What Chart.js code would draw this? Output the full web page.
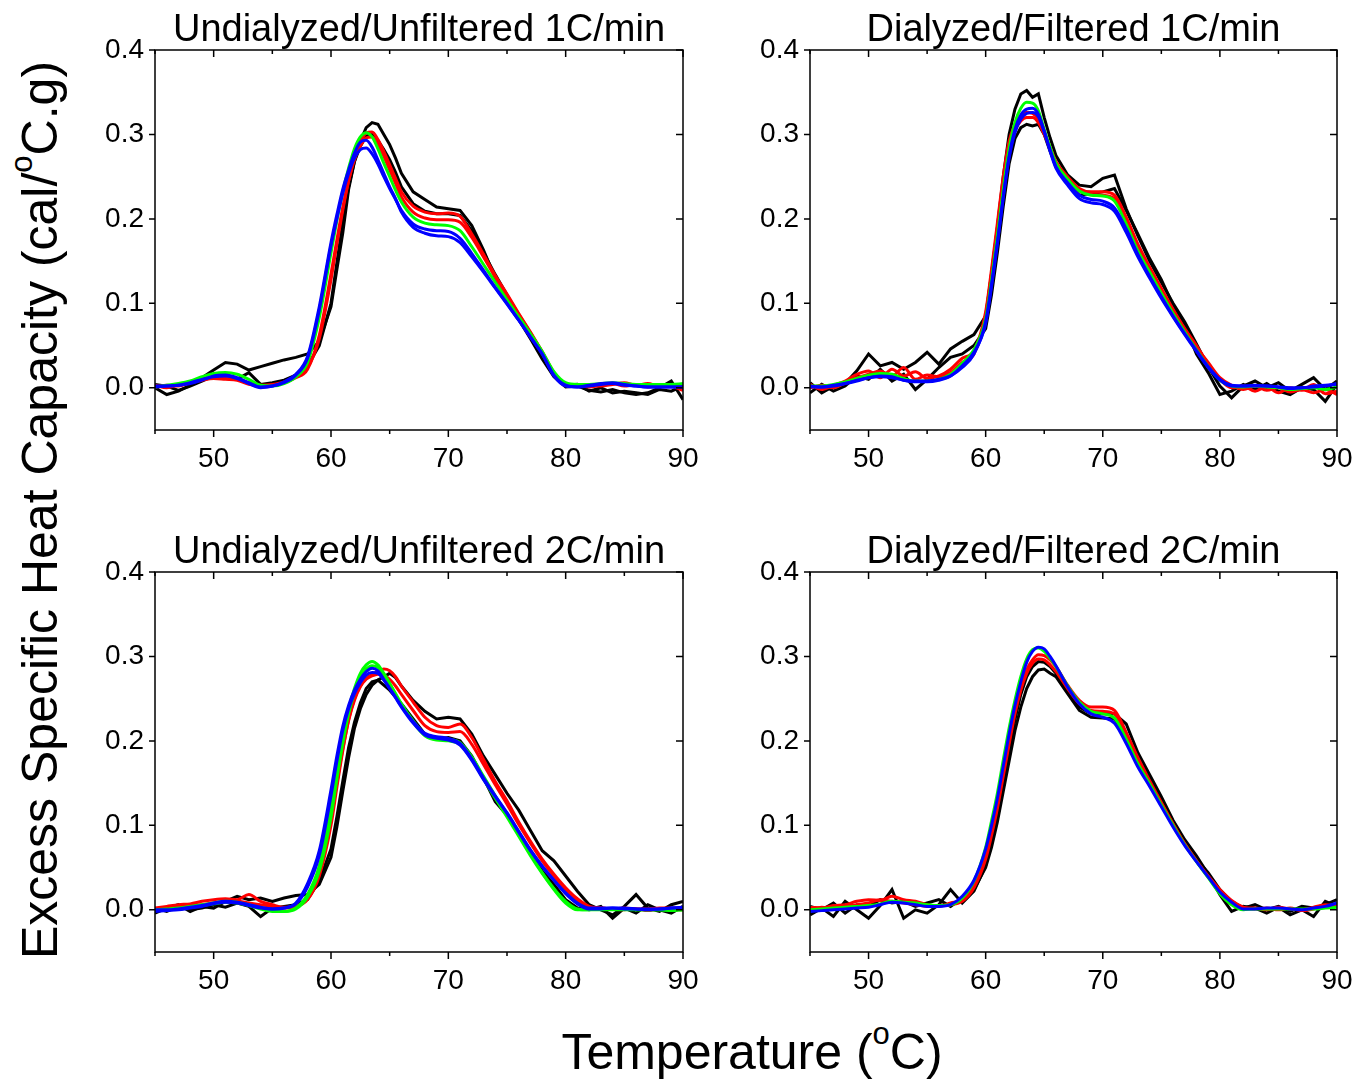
<!DOCTYPE html>
<html>
<head>
<meta charset="utf-8">
<script src="https://cdn.jsdelivr.net/npm/chart.js@4.4.1/dist/chart.umd.min.js"></script>
<style>
  body { margin: 0; background: #fff; font-family: "Liberation Sans", Arial, sans-serif; }
  #wrap { position: relative; width: 1371px; height: 1081px; overflow: hidden; }
  canvas { position: absolute; }
  .axtitle { position: absolute; font-size: 50px; color: #000; white-space: nowrap; line-height: 1; }
  .axtitle sup { font-size: 62%; vertical-align: 0.8em; line-height: 0; color: #000; }
</style>
</head>
<body>
<div id="wrap">
  <canvas id="u1" width="620" height="480" style="left:95px;top:0px"></canvas>
  <canvas id="d1" width="619" height="480" style="left:750px;top:0px"></canvas>
  <canvas id="u2" width="620" height="480" style="left:95px;top:522px"></canvas>
  <canvas id="d2" width="619" height="480" style="left:750px;top:522px"></canvas>
  <div class="axtitle" style="left:40px;top:510px;transform:translate(-50%,-50%) rotate(-90deg)">Excess Specific Heat Capacity (cal/<sup>o</sup>C.g)</div>
  <div class="axtitle" style="left:752px;top:1052px;transform:translate(-50%,-50%)">Temperature (<sup>o</sup>C)</div>
</div>
<script>
// temperature grid (C), shared by every trace
const temps = [45,46,47,48,49,50,51,52,53,54,55,56,57,58,59,60,60.5,61,61.5,62,62.5,63,63.5,64,64.5,65,65.5,66,67,68,69,70,71,72,73,74,75,76,77,78,79,80,81,82,83,84,85,86,87,88,89,90];
const xTicks = [50, 60, 70, 80, 90];
const yTicks = [0.0, 0.1, 0.2, 0.3, 0.4];

// Undialyzed/Unfiltered 1C/min
const u1Black1 = [0.000,-0.008,-0.004,0.003,0.012,0.021,0.030,0.028,0.021,0.025,0.029,0.033,0.036,0.040,0.055,0.096,0.140,0.183,0.235,0.268,0.292,0.308,0.314,0.312,0.300,0.288,0.272,0.254,0.232,0.223,0.214,0.212,0.210,0.192,0.163,0.130,0.106,0.081,0.058,0.034,0.013,0.001,0.002,-0.003,-0.005,-0.002,-0.006,-0.008,-0.006,0.000,0.008,-0.014];
const u1Black2 = [0.004,0.002,-0.003,0.002,0.008,0.014,0.016,0.010,0.018,0.004,0.006,0.009,0.015,0.026,0.050,0.100,0.148,0.195,0.238,0.268,0.286,0.298,0.300,0.293,0.282,0.270,0.255,0.238,0.218,0.209,0.206,0.206,0.204,0.186,0.160,0.134,0.110,0.086,0.062,0.040,0.016,0.003,0.004,-0.004,0.000,-0.006,-0.004,-0.006,-0.008,-0.002,-0.004,0.002];
const u1Red1 = [0.003,0.000,0.004,0.007,0.010,0.012,0.011,0.010,0.006,0.003,0.004,0.007,0.014,0.024,0.058,0.128,0.170,0.210,0.245,0.272,0.290,0.302,0.303,0.294,0.280,0.264,0.248,0.232,0.215,0.208,0.206,0.207,0.203,0.182,0.158,0.133,0.111,0.088,0.066,0.042,0.016,0.003,0.002,0.004,0.002,0.004,0.006,0.003,0.005,0.002,0.004,0.000];
const u1Red2 = [0.001,0.003,0.002,0.006,0.009,0.011,0.010,0.009,0.004,0.002,0.003,0.006,0.012,0.022,0.062,0.135,0.175,0.213,0.245,0.270,0.286,0.296,0.297,0.288,0.274,0.258,0.242,0.226,0.208,0.201,0.199,0.199,0.196,0.178,0.155,0.131,0.109,0.087,0.065,0.043,0.018,0.004,0.003,0.001,0.003,0.005,0.002,0.004,0.001,0.003,0.002,-0.003];
const u1Green1 = [0.001,0.003,0.005,0.008,0.013,0.017,0.018,0.016,0.010,0.003,0.002,0.005,0.013,0.030,0.083,0.160,0.198,0.232,0.260,0.283,0.297,0.302,0.297,0.283,0.266,0.250,0.234,0.220,0.202,0.195,0.193,0.192,0.186,0.167,0.146,0.125,0.104,0.084,0.064,0.043,0.019,0.006,0.004,0.004,0.005,0.006,0.005,0.004,0.004,0.004,0.004,0.005];
const u1Blue1 = [0.002,0.002,0.003,0.005,0.009,0.014,0.015,0.012,0.006,0.001,0.002,0.007,0.016,0.037,0.096,0.172,0.205,0.235,0.258,0.278,0.291,0.293,0.285,0.270,0.254,0.238,0.224,0.208,0.190,0.183,0.180,0.179,0.172,0.155,0.137,0.118,0.099,0.080,0.060,0.040,0.014,0.002,0.001,0.002,0.004,0.005,0.003,0.002,0.001,0.001,0.001,0.001];
const u1Blue2 = [0.001,0.002,0.003,0.006,0.010,0.013,0.014,0.011,0.005,0.000,0.002,0.006,0.015,0.035,0.092,0.168,0.200,0.230,0.254,0.272,0.282,0.284,0.277,0.265,0.250,0.236,0.223,0.210,0.194,0.188,0.186,0.185,0.177,0.159,0.139,0.119,0.100,0.080,0.060,0.040,0.015,0.003,0.001,0.003,0.005,0.006,0.004,0.002,0.001,0.001,0.001,0.001];

// Dialyzed/Filtered 1C/min
const d1Black1 = [0.006,-0.006,0.002,0.005,0.020,0.040,0.026,0.030,0.022,0.030,0.042,0.028,0.046,0.055,0.063,0.085,0.135,0.190,0.250,0.300,0.330,0.348,0.352,0.344,0.348,0.320,0.296,0.275,0.252,0.240,0.238,0.248,0.252,0.212,0.180,0.150,0.125,0.100,0.078,0.052,0.025,0.002,-0.012,0.002,0.008,0.000,0.006,-0.004,0.004,0.012,-0.002,0.008];
const d1Black2 = [-0.006,0.004,-0.004,0.002,0.014,0.010,0.022,0.008,0.016,-0.002,0.010,0.024,0.036,0.040,0.050,0.070,0.110,0.160,0.215,0.265,0.295,0.308,0.312,0.310,0.312,0.300,0.280,0.262,0.242,0.228,0.230,0.232,0.236,0.210,0.182,0.153,0.128,0.098,0.074,0.040,0.018,-0.008,-0.004,0.004,-0.002,0.005,-0.004,-0.008,0.000,-0.002,-0.016,0.004];
const d1Red1 = [0.004,-0.002,0.003,0.008,0.016,0.020,0.012,0.022,0.014,0.019,0.011,0.014,0.022,0.035,0.044,0.090,0.140,0.195,0.250,0.292,0.312,0.322,0.326,0.325,0.318,0.302,0.285,0.268,0.250,0.236,0.232,0.232,0.228,0.202,0.170,0.143,0.118,0.093,0.070,0.050,0.028,0.010,0.000,0.002,-0.004,0.001,-0.006,0.000,-0.003,0.004,-0.007,-0.004];
const d1Red2 = [0.000,0.003,0.000,0.006,0.012,0.016,0.020,0.014,0.024,0.010,0.015,0.013,0.018,0.030,0.040,0.085,0.135,0.188,0.240,0.283,0.305,0.316,0.320,0.320,0.314,0.300,0.283,0.265,0.246,0.233,0.229,0.228,0.224,0.200,0.168,0.141,0.116,0.092,0.069,0.048,0.030,0.012,0.003,-0.002,0.002,-0.003,0.000,-0.005,-0.002,-0.006,-0.002,-0.008];
const d1Green1 = [0.002,0.002,0.004,0.007,0.011,0.015,0.017,0.016,0.011,0.008,0.008,0.010,0.016,0.029,0.045,0.082,0.128,0.180,0.235,0.283,0.314,0.331,0.338,0.337,0.328,0.306,0.285,0.266,0.247,0.233,0.228,0.227,0.221,0.194,0.162,0.137,0.112,0.088,0.066,0.045,0.025,0.009,0.002,0.001,0.002,0.001,0.000,-0.002,-0.001,0.000,-0.002,0.001];
const d1Blue1 = [0.001,0.001,0.003,0.005,0.008,0.012,0.014,0.013,0.009,0.007,0.007,0.009,0.014,0.026,0.042,0.076,0.120,0.170,0.225,0.274,0.306,0.323,0.330,0.331,0.324,0.304,0.280,0.260,0.240,0.224,0.219,0.217,0.209,0.184,0.155,0.130,0.106,0.084,0.063,0.043,0.024,0.009,0.002,0.002,0.003,0.002,0.001,-0.001,0.000,0.001,0.002,0.005];
const d1Blue2 = [0.002,0.001,0.002,0.005,0.009,0.012,0.013,0.012,0.009,0.008,0.008,0.010,0.014,0.024,0.040,0.078,0.122,0.172,0.226,0.272,0.302,0.318,0.325,0.326,0.321,0.303,0.282,0.262,0.243,0.228,0.223,0.221,0.213,0.188,0.158,0.132,0.108,0.085,0.064,0.044,0.025,0.010,0.003,0.002,0.002,0.002,0.001,0.000,0.000,0.002,0.003,0.004];

// Undialyzed/Unfiltered 2C/min
const u2Black1 = [-0.004,0.002,0.006,-0.002,0.004,0.002,0.010,0.016,0.012,0.014,0.010,0.014,0.017,0.018,0.030,0.062,0.098,0.140,0.180,0.215,0.238,0.255,0.266,0.272,0.276,0.280,0.275,0.265,0.248,0.235,0.226,0.228,0.226,0.208,0.182,0.160,0.138,0.118,0.094,0.070,0.058,0.040,0.022,0.006,0.000,-0.006,0.004,0.018,0.002,-0.002,0.006,0.010];
const u2Black2 = [0.002,-0.002,0.004,0.000,0.002,0.006,0.003,0.008,0.004,-0.008,0.002,0.004,0.006,0.012,0.034,0.072,0.110,0.152,0.192,0.222,0.245,0.262,0.270,0.272,0.266,0.260,0.252,0.244,0.226,0.208,0.202,0.204,0.200,0.182,0.156,0.128,0.112,0.090,0.066,0.046,0.030,0.012,0.002,0.000,0.004,-0.010,0.002,-0.004,0.006,0.000,-0.004,0.004];
const u2Red1 = [0.002,0.004,0.006,0.007,0.010,0.012,0.013,0.012,0.018,0.010,0.006,0.003,0.004,0.012,0.040,0.100,0.145,0.188,0.225,0.250,0.265,0.274,0.279,0.282,0.285,0.283,0.276,0.265,0.246,0.228,0.218,0.216,0.220,0.204,0.178,0.152,0.129,0.104,0.081,0.060,0.042,0.026,0.013,0.004,0.002,0.001,0.002,0.001,0.001,0.002,0.002,0.001];
const u2Red2 = [0.000,0.001,0.003,0.005,0.006,0.008,0.009,0.010,0.008,0.006,0.004,0.002,0.004,0.014,0.046,0.108,0.150,0.190,0.224,0.248,0.264,0.273,0.277,0.279,0.278,0.273,0.265,0.255,0.236,0.218,0.211,0.210,0.211,0.196,0.172,0.148,0.125,0.101,0.079,0.058,0.040,0.024,0.011,0.003,0.002,0.001,0.000,0.001,-0.001,0.001,0.000,0.000];
const u2Green1 = [0.000,0.001,0.002,0.004,0.006,0.008,0.010,0.009,0.006,0.002,-0.001,-0.002,0.002,0.018,0.052,0.120,0.165,0.205,0.238,0.262,0.280,0.290,0.294,0.290,0.280,0.268,0.255,0.243,0.222,0.206,0.201,0.200,0.196,0.178,0.155,0.132,0.110,0.087,0.064,0.043,0.024,0.008,0.000,0.000,0.001,0.001,0.001,0.000,0.000,0.000,-0.001,0.000];
const u2Green2 = [-0.001,0.000,0.001,0.003,0.005,0.007,0.009,0.008,0.005,0.001,-0.002,-0.002,0.001,0.015,0.046,0.110,0.155,0.197,0.232,0.257,0.275,0.285,0.289,0.287,0.279,0.268,0.256,0.244,0.224,0.208,0.203,0.202,0.198,0.181,0.158,0.135,0.112,0.089,0.066,0.044,0.025,0.010,0.001,0.000,0.000,0.000,0.000,0.000,0.000,0.000,0.000,0.000];
const u2Blue1 = [-0.002,-0.001,0.000,0.002,0.004,0.007,0.009,0.008,0.005,0.002,0.001,0.002,0.008,0.031,0.070,0.142,0.182,0.217,0.242,0.260,0.273,0.282,0.286,0.283,0.273,0.262,0.251,0.240,0.221,0.207,0.203,0.201,0.195,0.177,0.154,0.134,0.114,0.092,0.070,0.051,0.035,0.019,0.007,0.001,0.001,0.002,0.002,0.001,0.000,0.001,0.002,0.003];
const u2Blue2 = [0.000,0.000,0.001,0.003,0.005,0.008,0.010,0.009,0.006,0.003,0.001,0.002,0.007,0.027,0.064,0.135,0.176,0.212,0.238,0.256,0.269,0.278,0.281,0.280,0.272,0.262,0.252,0.241,0.223,0.209,0.205,0.203,0.197,0.179,0.156,0.135,0.115,0.093,0.071,0.052,0.035,0.020,0.008,0.002,0.002,0.002,0.001,0.001,0.001,0.001,0.002,0.003];

// Dialyzed/Filtered 2C/min
const d2Black1 = [-0.006,0.002,-0.008,0.010,0.000,-0.010,0.005,0.024,-0.010,0.000,-0.004,0.006,0.024,0.008,0.022,0.052,0.080,0.112,0.150,0.188,0.225,0.255,0.276,0.288,0.294,0.293,0.288,0.280,0.258,0.240,0.232,0.232,0.232,0.220,0.186,0.160,0.134,0.106,0.083,0.064,0.042,0.018,-0.002,0.004,0.002,-0.004,0.003,-0.006,0.000,-0.008,0.010,0.004];
const d2Black2 = [0.004,0.000,0.008,-0.004,0.006,0.004,0.012,0.008,0.010,0.004,0.008,0.012,0.004,0.014,0.024,0.050,0.074,0.104,0.140,0.176,0.212,0.240,0.262,0.276,0.284,0.285,0.280,0.276,0.256,0.236,0.228,0.227,0.226,0.206,0.178,0.156,0.128,0.104,0.080,0.060,0.044,0.024,0.010,0.002,0.006,0.000,0.004,-0.002,0.004,0.002,0.006,0.012];
const d2Red1 = [0.003,0.002,0.005,0.006,0.010,0.012,0.011,0.016,0.012,0.010,0.006,0.004,0.008,0.012,0.030,0.064,0.092,0.124,0.162,0.200,0.236,0.264,0.284,0.296,0.302,0.301,0.296,0.288,0.266,0.248,0.240,0.240,0.236,0.210,0.180,0.153,0.127,0.102,0.078,0.058,0.039,0.022,0.010,0.002,0.002,0.000,0.003,0.001,0.000,0.003,0.006,0.005];
const d2Red2 = [0.000,0.003,0.001,0.004,0.006,0.008,0.012,0.010,0.008,0.006,0.004,0.005,0.006,0.010,0.026,0.060,0.088,0.120,0.158,0.196,0.232,0.260,0.280,0.292,0.297,0.296,0.290,0.282,0.262,0.244,0.236,0.235,0.232,0.207,0.177,0.151,0.126,0.101,0.078,0.058,0.040,0.024,0.011,0.003,0.001,0.002,0.000,0.002,-0.001,0.001,0.004,0.004];
const d2Green1 = [0.000,0.001,0.002,0.003,0.004,0.005,0.007,0.010,0.009,0.008,0.006,0.005,0.006,0.014,0.034,0.074,0.105,0.138,0.177,0.215,0.248,0.276,0.297,0.308,0.310,0.306,0.298,0.288,0.265,0.246,0.235,0.232,0.227,0.202,0.173,0.149,0.124,0.100,0.077,0.057,0.038,0.019,0.006,0.000,0.001,0.001,0.001,0.001,0.001,0.001,0.002,0.003];
const d2Blue1 = [-0.002,-0.001,0.000,0.001,0.002,0.003,0.006,0.009,0.008,0.006,0.004,0.004,0.006,0.016,0.035,0.072,0.100,0.132,0.170,0.208,0.242,0.270,0.293,0.306,0.311,0.309,0.300,0.289,0.264,0.244,0.232,0.228,0.221,0.197,0.169,0.146,0.122,0.098,0.076,0.057,0.039,0.021,0.009,0.001,0.001,0.002,0.002,0.001,0.000,0.002,0.004,0.008];

const BLACK = '#000000', RED = '#ff0000', GREEN = '#00ff00', BLUE = '#0000ff';

const panels = [
  { id: 'u1', title: 'Undialyzed/Unfiltered 1C/min',
    traces: [[u1Black1, BLACK], [u1Black2, BLACK], [u1Red1, RED], [u1Red2, RED], [u1Green1, GREEN], [u1Blue1, BLUE], [u1Blue2, BLUE]] },
  { id: 'd1', title: 'Dialyzed/Filtered 1C/min',
    traces: [[d1Black1, BLACK], [d1Black2, BLACK], [d1Red1, RED], [d1Red2, RED], [d1Green1, GREEN], [d1Blue1, BLUE], [d1Blue2, BLUE]] },
  { id: 'u2', title: 'Undialyzed/Unfiltered 2C/min',
    traces: [[u2Black1, BLACK], [u2Black2, BLACK], [u2Red1, RED], [u2Red2, RED], [u2Green1, GREEN], [u2Green2, GREEN], [u2Blue1, BLUE], [u2Blue2, BLUE]] },
  { id: 'd2', title: 'Dialyzed/Filtered 2C/min',
    traces: [[d2Black1, BLACK], [d2Black2, BLACK], [d2Red1, RED], [d2Red2, RED], [d2Green1, GREEN], [d2Blue1, BLUE]] }
];

const FONT = '"Liberation Sans", Arial, sans-serif';

// box around the plot, mirrored ticks on top/right, minor x ticks
const framePlugin = {
  id: 'frame',
  afterDatasetsDraw(chart) {
    const { ctx, chartArea: a, scales: { x, y } } = chart;
    ctx.save();
    ctx.strokeStyle = '#000';
    ctx.lineWidth = 1.5;
    ctx.strokeRect(a.left, a.top, a.right - a.left, a.bottom - a.top);
    ctx.beginPath();
    for (let v = 45; v <= 90; v += 5) {
      const px = x.getPixelForValue(v);
      const major = v % 10 === 0;
      const len = major ? 7 : 4;
      ctx.moveTo(px, a.bottom); ctx.lineTo(px, a.bottom + len);
      ctx.moveTo(px, a.top); ctx.lineTo(px, a.top + len);
    }
    yTicks.forEach(v => {
      const py = y.getPixelForValue(v);
      ctx.moveTo(a.left - 6, py); ctx.lineTo(a.left, py);
      ctx.moveTo(a.right, py); ctx.lineTo(a.right - 7, py);
    });
    ctx.stroke();
    ctx.restore();
  }
};

panels.forEach(p => {
  const datasets = p.traces.map(([vals, color]) => ({
    data: temps.map((t, i) => ({ x: t, y: vals[i] })),
    borderColor: color,
    borderWidth: 3,
    pointRadius: 0,
    tension: color === BLACK ? 0 : 0.4,
    cubicInterpolationMode: color === BLACK ? 'default' : 'monotone',
    order: color === BLUE ? 0 : color === GREEN ? 1 : color === RED ? 2 : 3
  }));

  new Chart(document.getElementById(p.id), {
    type: 'line',
    data: { datasets },
    options: {
      responsive: false,
      animation: false,
      layout: { padding: { top: 0, right: 32, bottom: 0, left: 0 } },
      plugins: {
        legend: { display: false },
        tooltip: { enabled: false },
        title: {
          display: true,
          text: p.title,
          fullSize: false,
          color: '#000',
          font: { family: FONT, size: 38, weight: 'normal', lineHeight: 1 },
          padding: { top: 12, bottom: 0 }
        }
      },
      scales: {
        x: {
          type: 'linear',
          min: 45, max: 90,
          afterFit: s => { s.height = 50; },
          afterBuildTicks: s => { s.ticks = xTicks.map(v => ({ value: v })); },
          grid: { display: false, drawTicks: false },
          border: { display: false },
          ticks: { color: '#000', padding: 12, maxRotation: 0, font: { family: FONT, size: 28 } }
        },
        y: {
          type: 'linear',
          min: -0.05, max: 0.4,
          afterFit: s => { s.width = 60; },
          afterBuildTicks: s => { s.ticks = yTicks.map(v => ({ value: v })); },
          grid: { display: false, drawTicks: false },
          border: { display: false },
          ticks: { color: '#000', padding: 11, font: { family: FONT, size: 28 }, callback: v => v.toFixed(1) }
        }
      }
    },
    plugins: [framePlugin]
  });
});
</script>
</body>
</html>
